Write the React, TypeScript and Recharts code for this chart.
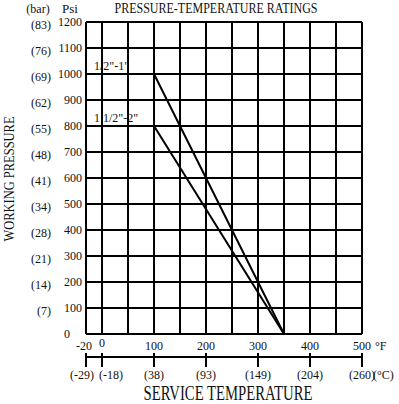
import { LineChart, Line, XAxis, YAxis, CartesianGrid } from 'recharts'

// Pressure-temperature rating chart, two valve size groups

const fTicks = [-20, 0, 50, 100, 150, 200, 250, 300, 350, 400, 450, 500]
const fLabels = ['-20', '0', '', '100', '', '200', '', '300', '', '400', '', '500']
const cTicks = [-20, 0, 100, 200, 300, 400, 500]
const cLabels = ['(-29)', '(-18)', '(38)', '(93)', '(149)', '(204)', '(260)']
const psiTicks = [0, 100, 200, 300, 400, 500, 600, 700, 800, 900, 1000, 1100, 1200]
const barLabels = ['', '(7)', '(14)', '(21)', '(28)', '(34)', '(41)', '(48)', '(55)', '(62)', '(69)', '(76)', '(83)']

const seriesNames = ['1/2"-1"', '1 1/2"-2"']
const smallTemps = [-20, 100, 350]
const smallPsi = [1000, 1000, 0]
const largeTemps = [-20, 100, 350]
const largePsi = [800, 800, 0]

const smallData = smallTemps.map((t, i) => ({ t, p: smallPsi[i] }))
const largeData = largeTemps.map((t, i) => ({ t, p: largePsi[i] }))

const FONT = '"Liberation Serif", "DejaVu Serif", serif'

// the sheet gives the -20..0 column more room than its width, so bend the scale below zero
const BELOW_ZERO = 1.54
const bent = (v: number) => (v < 0 ? v * BELOW_ZERO : v)

function tempScale(): any {
  let dom: number[] = [-20, 500]
  let ran: number[] = [0, 1]
  const s: any = (v: number) => {
    const a = bent(dom[0])
    const b = bent(dom[dom.length - 1])
    return ran[0] + ((bent(v) - a) / (b - a)) * (ran[ran.length - 1] - ran[0])
  }
  s.domain = (d?: number[]) => {
    if (d === undefined) return dom.slice()
    dom = d.map(Number)
    return s
  }
  s.range = (r?: number[]) => {
    if (r === undefined) return ran.slice()
    ran = r.slice()
    return s
  }
  s.copy = () => tempScale().domain(dom).range(ran)
  s.ticks = () => fTicks
  s.nice = () => s
  s.clamp = () => s
  s.invert = (px: number) => {
    const a = bent(dom[0])
    const b = bent(dom[dom.length - 1])
    const u = a + ((px - ran[0]) / (ran[ran.length - 1] - ran[0])) * (b - a)
    return u < 0 ? u / BELOW_ZERO : u
  }
  return s
}

function FTick({ x, y, payload }: any) {
  const i = fTicks.indexOf(payload.value)
  const label = fLabels[i]
  if (!label) return <g />
  const last = i === fTicks.length - 1
  // the two leftmost labels sit a little off their ticks on the sheet
  const dx = i === 0 ? -2 : 0
  const dy = i === 1 ? -3 : 0
  return (
    <g>
      <text x={x + dx} y={y + 14 + dy} textAnchor="middle" fontSize={12} fontFamily={FONT} fill="#111">
        {label}
      </text>
      {last && (
        <text x={x + 13} y={y + 14} textAnchor="start" fontSize={12} fontFamily={FONT} fill="#111">
          °F
        </text>
      )}
    </g>
  )
}

function CTick({ x, y, payload }: any) {
  const i = cTicks.indexOf(payload.value)
  const label = cLabels[i]
  const last = i === cTicks.length - 1
  const dx = i === 0 ? -4 : i === 1 ? 9 : 0
  return (
    <g>
      <line x1={x} x2={x} y1={y - 6} y2={y + 8} stroke="#000" strokeWidth={2} />
      <text x={x + dx} y={y + 20} textAnchor="middle" fontSize={12} fontFamily={FONT} fill="#111">
        {label}
      </text>
      {last && (
        <text x={x + 11} y={y + 20} textAnchor="start" fontSize={12} fontFamily={FONT} fill="#111">
          (°C)
        </text>
      )}
    </g>
  )
}

function PsiTick({ x, y, payload }: any) {
  // the zero is pushed left, clear of the -20 below it
  const zero = payload.value === 0
  return (
    <text
      x={zero ? x - 12 : x}
      y={y + 4}
      textAnchor="end"
      fontSize={12}
      fontFamily={FONT}
      fill="#111"
    >
      {payload.value}
    </text>
  )
}

function seriesLabel(name: string) {
  return (props: any) => {
    if (props.index !== 0) return <g />
    return (
      <text x={props.x + 8} y={props.y - 4} fontSize={12} fontFamily={FONT} fill="#111">
        {name}
      </text>
    )
  }
}

export default function App() {
  return (
    <div style={{ position: 'absolute', left: 0, top: 0, background: '#fff' }}>
      <LineChart
        width={399}
        height={404}
        margin={{ top: 22, right: 37, bottom: 7, left: 12 }}
        style={{ fontFamily: FONT }}
      >
        <CartesianGrid xAxisId="a_f" yAxisId="a_psi" stroke="#000" strokeWidth={2} />
        <XAxis
          xAxisId="a_f"
          dataKey="t"
          type="number"
          domain={[-20, 500]}
          scale={tempScale()}
          ticks={fTicks}
          interval={0}
          height={23}
          axisLine={false}
          tickLine={false}
          tickSize={0}
          tick={<FTick />}
        />
        <XAxis
          xAxisId="b_c"
          dataKey="t"
          type="number"
          domain={[-20, 500]}
          scale={tempScale()}
          ticks={cTicks}
          interval={0}
          height={40}
          axisLine={{ stroke: '#000', strokeWidth: 2 }}
          tickLine={false}
          tickSize={0}
          tick={<CTick />}
        />
        <YAxis
          yAxisId="a_psi"
          type="number"
          domain={[0, 1200]}
          ticks={psiTicks}
          interval={0}
          width={34}
          axisLine={false}
          tickLine={false}
          tickSize={0}
          tickMargin={4}
          tick={<PsiTick />}
        />
        <YAxis
          yAxisId="b_bar"
          type="number"
          domain={[0, 1200]}
          ticks={psiTicks}
          interval={0}
          width={40}
          axisLine={false}
          tickLine={false}
          tickSize={0}
          tickMargin={1}
          tick={{ fontSize: 12, fill: '#111', fontFamily: FONT, dy: 3 }}
          tickFormatter={(v: number) => barLabels[psiTicks.indexOf(v)]}
        />
        <Line
          xAxisId="a_f"
          yAxisId="a_psi"
          data={smallData}
          dataKey="p"
          name={seriesNames[0]}
          stroke="#000"
          strokeWidth={2}
          dot={false}
          isAnimationActive={false}
          label={seriesLabel(seriesNames[0])}
        />
        {/* same scales as the psi/°F pair, bound to the °C and bar axes so those get drawn */}
        <Line
          xAxisId="b_c"
          yAxisId="b_bar"
          data={largeData}
          dataKey="p"
          name={seriesNames[1]}
          stroke="#000"
          strokeWidth={2}
          dot={false}
          isAnimationActive={false}
          label={seriesLabel(seriesNames[1])}
        />
        <text x={216} y={13} textAnchor="middle" fontSize={15} fontFamily={FONT} fill="#111" textLength={203} lengthAdjust="spacingAndGlyphs">
          PRESSURE-TEMPERATURE RATINGS
        </text>
        <text x={70} y={13} textAnchor="middle" fontSize={13} fontFamily={FONT} fill="#111">
          Psi
        </text>
        <text x={38} y={13} textAnchor="middle" fontSize={12} fontFamily={FONT} fill="#111">
          (bar)
        </text>
        <text
          x={0}
          y={0}
          transform="translate(14 179) rotate(-90)"
          textAnchor="middle"
          fontSize={15}
          fontFamily={FONT}
          fill="#111"
          textLength={125}
          lengthAdjust="spacingAndGlyphs"
        >
          WORKING PRESSURE
        </text>
        <text x={228} y={400} textAnchor="middle" fontSize={20} fontFamily={FONT} fill="#111" textLength={169} lengthAdjust="spacingAndGlyphs">
          SERVICE TEMPERATURE
        </text>
      </LineChart>
    </div>
  )
}
